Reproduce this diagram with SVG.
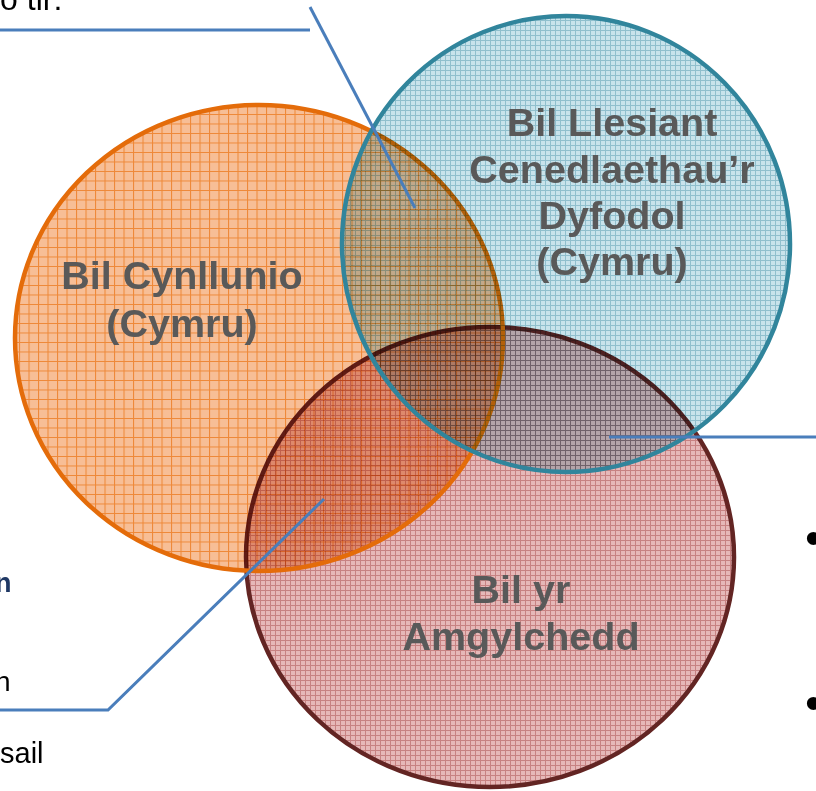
<svg xmlns="http://www.w3.org/2000/svg" width="816" height="791" viewBox="0 0 816 791">
<style>
.lbl{font-family:"Liberation Sans",Arial,sans-serif;font-weight:bold;font-size:39.5px;fill:#595959;text-anchor:middle}
.side{font-family:"Liberation Sans",Arial,sans-serif;font-size:29px;fill:#000}
.bul{font-family:"Liberation Sans",Arial,sans-serif;font-size:48px;fill:#000}
.fill{mix-blend-mode:multiply}
.conn{stroke:#4A7EBB;stroke-width:3;fill:none}
</style>
<defs>
<pattern id="pOrange" width="9.5" height="9.5" patternUnits="userSpaceOnUse">
<rect width="9.5" height="9.5" fill="#F7BE96"/>
<path d="M0 0.5H9.5M0.5 0V9.5" stroke="#EE8838" stroke-width="1.1"/>
</pattern>
<pattern id="pBlue" width="5" height="5" patternUnits="userSpaceOnUse">
<rect width="5" height="5" fill="#C8E3EB"/>
<path d="M0 0.5H5M0.5 0V5" stroke="#90BFCD" stroke-width="1"/>
</pattern>
<pattern id="pRed" width="5" height="5" patternUnits="userSpaceOnUse">
<rect width="5" height="5" fill="#E6B8B8"/>
<path d="M0 0.5H5M0.5 0V5" stroke="#C78282" stroke-width="1"/>
</pattern>
</defs>
<rect width="816" height="791" fill="#fff"/>
<g id="side-text">
<text class="side" x="-7" y="10" style="font-size:32px">io tir:</text>
<text class="side" x="-5" y="592" style="font-size:27px;font-weight:bold;fill:#1F3864">n</text>
<text class="side" x="-5" y="691" style="font-size:28px">n</text>
<text class="side" x="0" y="763">sail</text>
<text class="bul" x="805" y="554">•</text>
<text class="bul" x="805" y="719">•</text>
</g>
<g id="node-amgylchedd">
<ellipse class="fill" cx="490" cy="557" rx="244" ry="230" fill="url(#pRed)"/>
<ellipse cx="490" cy="557" rx="244" ry="230" fill="none" stroke="#632523" stroke-width="4.5"/>
<text class="lbl" x="521" y="603">Bil yr</text>
<text class="lbl" x="521" y="650">Amgylchedd</text>
</g>
<g id="node-cynllunio">
<ellipse class="fill" cx="259" cy="338" rx="244" ry="233" fill="url(#pOrange)"/>
<ellipse cx="259" cy="338" rx="244" ry="233" fill="none" stroke="#E46C0A" stroke-width="4.5"/>
<text class="lbl" x="182" y="289">Bil Cynllunio</text>
<text class="lbl" x="182" y="337">(Cymru)</text>
</g>
<g id="node-llesiant">
<ellipse class="fill" cx="566" cy="244" rx="224" ry="228" fill="url(#pBlue)"/>
<ellipse cx="566" cy="244" rx="224" ry="228" fill="none" stroke="#31859C" stroke-width="4.5"/>
<text class="lbl" x="612" y="136">Bil Llesiant</text>
<text class="lbl" x="612" y="183">Cenedlaethau’r</text>
<text class="lbl" x="612" y="229">Dyfodol</text>
<text class="lbl" x="612" y="275">(Cymru)</text>
</g>
<g id="connectors">
<line class="conn" x1="0" y1="30" x2="310" y2="30"/>
<line class="conn" x1="310" y1="7" x2="415" y2="208"/>
<line class="conn" x1="609" y1="437" x2="816" y2="437"/>
<polyline class="conn" points="0,710 108,710 324,499"/>
</g>
</svg>
